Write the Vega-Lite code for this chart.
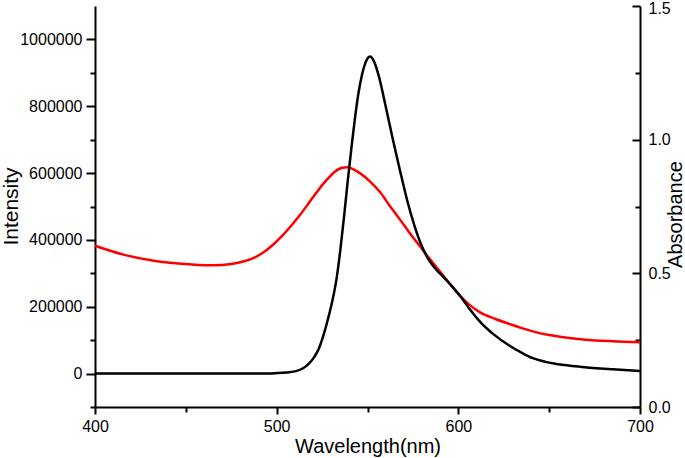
{
  "$schema": "https://vega.github.io/schema/vega-lite/v6.json",
  "width": 545,
  "height": 401,
  "autosize": {"type": "none"},
  "padding": {"left": 95, "top": 6, "right": 45, "bottom": 51},
  "background": "white",
  "config": {
    "view": {"stroke": null},
    "font": "Liberation Sans",
    "axis": {
      "grid": false,
      "domainColor": "black",
      "domainWidth": 2,
      "tickColor": "black",
      "tickWidth": 2,
      "labelColor": "black",
      "titleColor": "black",
      "labelFont": "Liberation Sans",
      "titleFont": "Liberation Sans",
      "labelFontSize": 16,
      "titleFontWeight": "normal"
    }
  },
  "resolve": {"scale": {"y": "independent"}},
  "layer": [
    {
      "data": {"values": [
        {"wl": 400, "abs": 0.603}, {"wl": 415, "abs": 0.571}, {"wl": 434, "abs": 0.545},
        {"wl": 452, "abs": 0.534}, {"wl": 465, "abs": 0.530}, {"wl": 475, "abs": 0.535},
        {"wl": 482, "abs": 0.545}, {"wl": 488, "abs": 0.560}, {"wl": 493, "abs": 0.580},
        {"wl": 498, "abs": 0.607}, {"wl": 503, "abs": 0.640}, {"wl": 508, "abs": 0.678},
        {"wl": 513, "abs": 0.720}, {"wl": 518, "abs": 0.766}, {"wl": 523, "abs": 0.812},
        {"wl": 528, "abs": 0.853}, {"wl": 532, "abs": 0.880}, {"wl": 536, "abs": 0.895},
        {"wl": 539, "abs": 0.897}, {"wl": 542, "abs": 0.890}, {"wl": 546, "abs": 0.874},
        {"wl": 551, "abs": 0.846}, {"wl": 557, "abs": 0.803}, {"wl": 562, "abs": 0.755},
        {"wl": 568, "abs": 0.700}, {"wl": 573, "abs": 0.653}, {"wl": 579, "abs": 0.600},
        {"wl": 584, "abs": 0.556}, {"wl": 590, "abs": 0.506}, {"wl": 595, "abs": 0.464},
        {"wl": 601, "abs": 0.416}, {"wl": 606, "abs": 0.383}, {"wl": 612, "abs": 0.354},
        {"wl": 620, "abs": 0.330}, {"wl": 628, "abs": 0.311}, {"wl": 635, "abs": 0.295},
        {"wl": 642, "abs": 0.281}, {"wl": 650, "abs": 0.269}, {"wl": 660, "abs": 0.259},
        {"wl": 670, "abs": 0.252}, {"wl": 685, "abs": 0.246}, {"wl": 700, "abs": 0.242}
      ]},
      "mark": {"type": "line", "color": "#ff0000", "strokeWidth": 2.5, "interpolate": "monotone"},
      "encoding": {
        "x": {
          "field": "wl", "type": "quantitative",
          "scale": {"domain": [400, 700], "nice": false, "zero": false},
          "axis": {
            "title": "Wavelength(nm)",
            "titleFontSize": 20,
            "titleX": 272.5,
            "titleY": 45,
            "titleBaseline": "alphabetic",
            "values": [400, 450, 500, 550, 600, 650, 700],
            "labelExpr": "datum.value % 100 === 0 ? datum.label : ''",
            "tickSize": {"condition": {"test": "datum.value % 100 === 0", "value": 7}, "value": 5},
            "labelPadding": 4,
            "labelFlush": false
          }
        },
        "y": {
          "field": "abs", "type": "quantitative",
          "scale": {"domain": [0, 1.5], "nice": false, "zero": false},
          "axis": {
            "orient": "right",
            "title": "Absorbance",
            "titleFontSize": 20,
            "titleAngle": -90,
            "titleX": 41,
            "titleY": 208,
            "titleAlign": "center",
            "titleBaseline": "alphabetic",
            "values": [0, 0.25, 0.5, 0.75, 1, 1.25, 1.5],
            "format": ".1f",
            "labelExpr": "datum.value % 0.5 === 0 ? datum.label : ''",
            "labelOffset": {"condition": {"test": "datum.value === 1.5", "value": 2}, "value": 0},
            "tickSize": {"condition": {"test": "datum.value % 0.5 === 0", "value": -8}, "value": -5},
            "labelPadding": 16,
            "labelFlush": false
          }
        }
      }
    },
    {
      "data": {"values": [
        {"wl": 400, "intensity": 0}, {"wl": 420, "intensity": 0}, {"wl": 440, "intensity": 0},
        {"wl": 460, "intensity": 0}, {"wl": 480, "intensity": 0}, {"wl": 495, "intensity": 500},
        {"wl": 500, "intensity": 1500}, {"wl": 505, "intensity": 3000}, {"wl": 510, "intensity": 6500},
        {"wl": 514.5, "intensity": 16000}, {"wl": 517, "intensity": 26000}, {"wl": 520, "intensity": 44000},
        {"wl": 523, "intensity": 72000}, {"wl": 525.5, "intensity": 110000}, {"wl": 528, "intensity": 158000},
        {"wl": 530.5, "intensity": 214000}, {"wl": 533, "intensity": 285000}, {"wl": 535, "intensity": 368000},
        {"wl": 537, "intensity": 465000}, {"wl": 539, "intensity": 570000}, {"wl": 541, "intensity": 668000},
        {"wl": 543, "intensity": 760000}, {"wl": 545, "intensity": 838000}, {"wl": 547, "intensity": 895000},
        {"wl": 549, "intensity": 932000}, {"wl": 551.4, "intensity": 949000}, {"wl": 553.5, "intensity": 935000},
        {"wl": 556, "intensity": 895000}, {"wl": 560, "intensity": 800000}, {"wl": 564, "intensity": 700000},
        {"wl": 568, "intensity": 605000}, {"wl": 572, "intensity": 515000}, {"wl": 576, "intensity": 440000},
        {"wl": 580, "intensity": 380000}, {"wl": 584, "intensity": 338000}, {"wl": 588, "intensity": 310000},
        {"wl": 592, "intensity": 288000}, {"wl": 597, "intensity": 258000}, {"wl": 601, "intensity": 232000},
        {"wl": 606, "intensity": 195000}, {"wl": 612, "intensity": 155000}, {"wl": 620, "intensity": 115000},
        {"wl": 628, "intensity": 84000}, {"wl": 635, "intensity": 62000}, {"wl": 641, "intensity": 46000},
        {"wl": 648, "intensity": 35000}, {"wl": 655, "intensity": 28000}, {"wl": 668, "intensity": 20000},
        {"wl": 685, "intensity": 13000}, {"wl": 700, "intensity": 8000}
      ]},
      "mark": {"type": "line", "color": "black", "strokeWidth": 2.5, "interpolate": "monotone"},
      "encoding": {
        "x": {
          "field": "wl", "type": "quantitative",
          "scale": {"domain": [400, 700], "nice": false, "zero": false}
        },
        "y": {
          "field": "intensity", "type": "quantitative",
          "scale": {"domain": [-100000, 1100000], "nice": false, "zero": false},
          "axis": {
            "orient": "left",
            "title": "Intensity",
            "titleFontSize": 21,
            "titleAngle": -90,
            "titleX": -78,
            "titleY": 200,
            "titleAlign": "center",
            "titleBaseline": "alphabetic",
            "values": [-100000, 0, 100000, 200000, 300000, 400000, 500000, 600000, 700000, 800000, 900000, 1000000],
            "labelExpr": "datum.value % 200000 === 0 ? format(datum.value, 'd') : ''",
            "tickSize": {"condition": {"test": "datum.value % 200000 === 0", "value": 9}, "value": 5},
            "labelPadding": 4,
            "labelFlush": false
          }
        }
      }
    }
  ]
}
